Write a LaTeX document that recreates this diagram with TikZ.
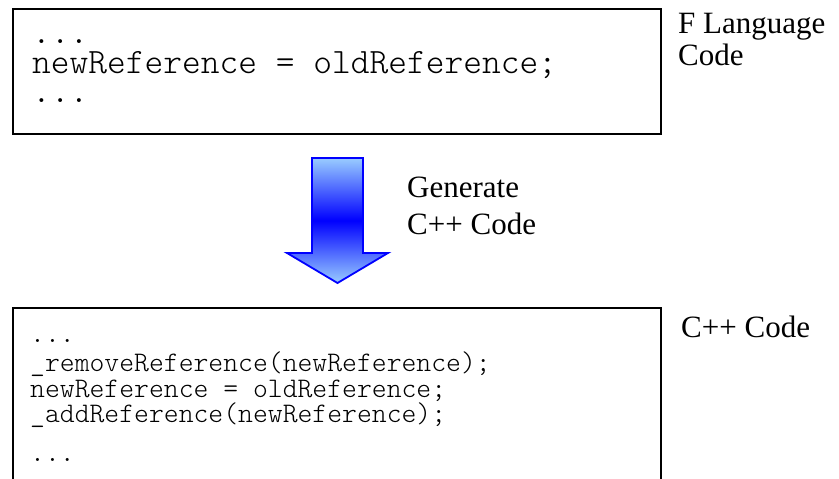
\documentclass[tikz,border=0pt]{standalone}
\usepackage{fontspec}
\setmainfont{Liberation Serif}
\newfontfamily\codefont{Latin Modern Mono Light}
\definecolor{arrowlight}{HTML}{99CCFF}
\definecolor{arrowdark}{HTML}{0000FF}
\tikzset{
  codebig/.style={anchor=base west, inner sep=0pt, text height=21pt, text depth=6pt,
    font=\codefont\fontsize{35.7}{35.7}\selectfont},
  codesmall/.style={anchor=base west, inner sep=0pt, text height=17pt, text depth=5pt,
    font=\codefont\fontsize{28.3}{28.3}\selectfont},
  caption/.style={anchor=base west, inner sep=0pt, font=\fontsize{31}{31}\selectfont},
  frame/.style={draw=black, line width=1.6pt},
  blockarrow/.style={draw=arrowdark, line width=1.8pt, line join=miter,
    top color=arrowlight, bottom color=arrowlight, middle color=arrowdark}
}
\begin{document}
\begin{tikzpicture}[x=1pt, y=-1pt]
  \useasboundingbox (0,0) rectangle (839,479);
  \clip (0,0) rectangle (839,479);

  % source program box
  \draw[frame] (13,9) rectangle (661,134);
  \node[codebig] (f1) at (32,43) {...};
  \node[codebig] (f2) at (32,73) {newReference = oldReference;};
  \node[codebig] (f3) at (32,102) {...};
  \node[caption] (flang) at (678,33) {F Language};
  \node[caption] (fcode) at (678,65) {Code};

  % translation step
  \path[blockarrow] (312,158) -- (363,158) -- (363,253) -- (388,253)
    -- (337.5,283) -- (287,253) -- (312,253) -- cycle;
  \node[caption] (gen1) at (407,197) {Generate};
  \node[caption] (gen2) at (407,234) {C++ Code};

  % generated program box
  \draw[frame] (13,308) rectangle (661,495);
  \node[codesmall] (c1) at (30,342) {...};
  \node[codesmall] (c2) at (30,371.5) {\_removeReference(newReference);};
  \node[codesmall] (c3) at (30,397) {newReference = oldReference;};
  \node[codesmall] (c4) at (30,422.5) {\_addReference(newReference);};
  \node[codesmall] (c5) at (30,461.5) {...};
  \node[caption] (cpp) at (681,337) {C++ Code};
\end{tikzpicture}
\end{document}
